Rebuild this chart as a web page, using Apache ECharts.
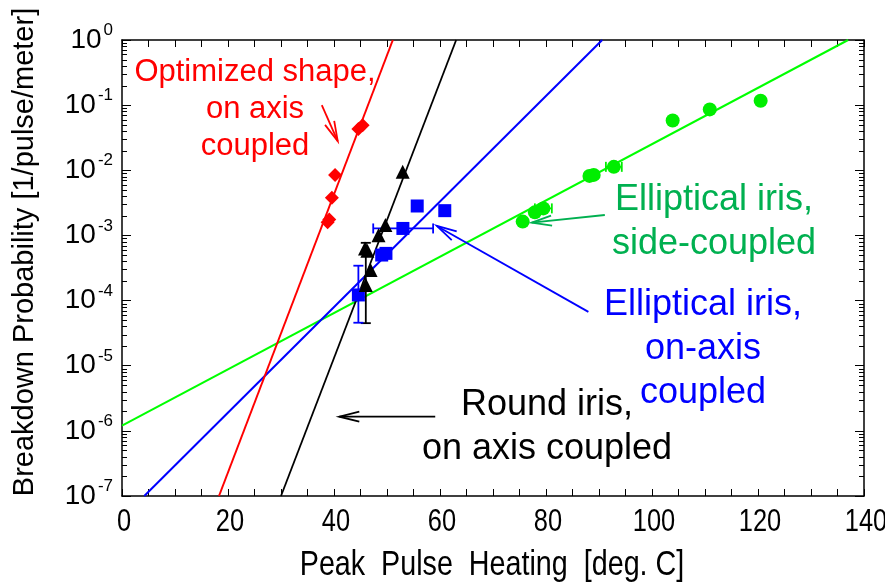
<!DOCTYPE html>
<html>
<head>
<meta charset="utf-8">
<script src="https://cdn.jsdelivr.net/npm/echarts@6/dist/echarts.min.js"></script>
<style>
  html, body { margin: 0; padding: 0; background: #fff; }
  #chart { width: 885px; height: 583px; }
</style>
</head>
<body>
<div id="chart"></div>
<script>
// Measured points: [peak pulse heating (deg C), breakdown probability (1/pulse/meter)]
const optimizedShape = [[38.8, 1.6e-3], [39.1, 1.75e-3], [39.6, 3.8e-3], [40.2, 8.5e-3], [44.6, 4.3e-2], [45.4, 4.9e-2]];
const roundIris = [[46.0, 1.74e-4], [46.9, 2.94e-4], [45.85, 6.3e-4], [46.3, 5.8e-4], [48.4, 1.01e-3], [49.7, 1.45e-3], [52.96, 9.5e-3]];
const ellipticalOnAxis = [[44.6, 1.22e-4], [49.0, 5.0e-4], [49.8, 5.3e-4], [53.0, 1.28e-3], [55.7, 2.83e-3], [60.9, 2.4e-3]];
const ellipticalSide = [[75.6, 1.63e-3], [77.9, 2.26e-3], [79.5, 2.6e-3], [88.2, 8.2e-3], [89.0, 8.5e-3], [92.8, 1.13e-2], [103.9, 5.8e-2], [110.9, 8.6e-2], [120.5, 0.117]];

// Exponential fits, given by their two end points
const optimizedFit = [[18.3, 1e-7], [51.1, 1]];
const roundFit = [[30.0, 1e-7], [63.05, 1]];
const ellipticalOnAxisFit = [[4.2, 1e-7], [90.6, 1]];
const ellipticalSideFit = [[0, 1.2e-6], [137, 1]];

// Error bars: vertical [x, y, low, high], horizontal [x, y, left, right]
const roundIrisErrY = [[46.0, 1.74e-4, 4.5e-5, 7.7e-4]];
const ellipticalOnAxisErrY = [[44.6, 1.22e-4, 4.57e-5, 3.43e-4]];
const ellipticalOnAxisErrX = [[53.0, 1.28e-3, 47.4, 58.7]];
const ellipticalSideErrX = [[79.5, 2.6e-3, 77.9, 81.1], [92.8, 1.13e-2, 91.3, 94.3]];

// Axis ticks
const xTickStep = 5;
const xLabelStep = 20;
const yDecadeExponents = [0, -1, -2, -3, -4, -5, -6, -7];
const yMinorMantissas = [2, 3, 4, 5, 6, 7, 8, 9];

// Callout arrows [from, to] in data coordinates
const arrows = [
  { from: [37.7, 0.1], to: [40.7, 0.028], color: '#ff0000' },
  { from: [91.1, 2.06e-3], to: [77.3, 1.57e-3], color: '#00b050' },
  { from: [88.0, 6.7e-5], to: [59.4, 1.4e-3], color: '#0000ff' },
  { from: [59.1, 1.65e-6], to: [41.0, 1.65e-6], color: '#000000' }
];

const SANS = '"Liberation Sans", Arial, sans-serif';

const chart = echarts.init(document.getElementById('chart'), null, { renderer: 'canvas' });

const yMinorTicks = [];
yDecadeExponents.slice(1).forEach(function (e) {
  yMinorMantissas.forEach(function (m) { yMinorTicks.push([0, m * Math.pow(10, e)]); });
});

function fitLine(data, color, width) {
  return {
    type: 'line', data: data, showSymbol: false, silent: true, z: 2,
    lineStyle: { color: color, width: width }, animation: false
  };
}

function scatter(data, symbol, size, color) {
  return {
    type: 'scatter', data: data, symbol: symbol, symbolSize: size, z: 5,
    itemStyle: { color: color, opacity: 1 }, animation: false
  };
}

function errorBars(data, color, horizontal) {
  return {
    type: 'custom', data: data, z: 4, silent: true, animation: false,
    encode: { x: 0, y: 1 },
    renderItem: function (params, api) {
      const cap = 5;
      let a, b, caps;
      if (horizontal) {
        a = api.coord([api.value(2), api.value(1)]);
        b = api.coord([api.value(3), api.value(1)]);
        caps = [[a[0], a[1] - cap, a[0], a[1] + cap], [b[0], b[1] - cap, b[0], b[1] + cap]];
      } else {
        a = api.coord([api.value(0), api.value(2)]);
        b = api.coord([api.value(0), api.value(3)]);
        caps = [[a[0] - cap, a[1], a[0] + cap, a[1]], [b[0] - cap, b[1], b[0] + cap, b[1]]];
      }
      const style = { stroke: color, lineWidth: 1.8 };
      const segs = [[a[0], a[1], b[0], b[1]]].concat(caps);
      return {
        type: 'group',
        children: segs.map(function (s) {
          return { type: 'line', shape: { x1: s[0], y1: s[1], x2: s[2], y2: s[3] }, style: style };
        })
      };
    }
  };
}

// Short inward minor ticks at 2..9 x 10^k on both vertical frame edges
const minorTickSeries = {
  type: 'custom', data: yMinorTicks, silent: true, z: 1, animation: false,
  encode: { x: 0, y: 1 },
  renderItem: function (params, api) {
    const cs = params.coordSys;
    const y = Math.round(api.coord([0, api.value(1)])[1]) + 0.5;
    const len = 5;
    const style = { stroke: '#000', lineWidth: 1 };
    return {
      type: 'group',
      children: [
        { type: 'line', shape: { x1: cs.x, y1: y, x2: cs.x + len, y2: y }, style: style },
        { type: 'line', shape: { x1: cs.x + cs.width - len, y1: y, x2: cs.x + cs.width, y2: y }, style: style }
      ]
    };
  }
};

// Condensed tick labels under the x axis, placed through the x scale
const xLabelValues = [];
for (let v = 0; v <= 140; v += xLabelStep) xLabelValues.push([v, 1e-7]);
const xLabelSeries = {
  type: 'custom', data: xLabelValues, silent: true, z: 10, animation: false, clip: false,
  encode: { x: 0, y: 1 },
  renderItem: function (params, api) {
    const p = api.coord([api.value(0), api.value(1)]);
    return {
      type: 'text', x: p[0] + 2, y: p[1] + 26, scaleX: 0.82,
      style: { text: String(api.value(0)), fill: '#000', font: '31px ' + SANS, align: 'center', verticalAlign: 'middle' }
    };
  }
};

const axisLineStyle = { show: true, onZero: false, lineStyle: { color: '#000', width: 1.5 } };

const xBase = {
  type: 'value', min: 0, max: 140, interval: xTickStep,
  axisLine: axisLineStyle,
  axisTick: { show: true, inside: true, length: 7, lineStyle: { color: '#000', width: 1 } },
  axisLabel: { show: false },
  splitLine: { show: false }
};
const yBase = {
  type: 'log', logBase: 10, min: 1e-7, max: 1, splitNumber: 7,
  axisLine: axisLineStyle,
  axisTick: { show: true, inside: true, length: 9, lineStyle: { color: '#000', width: 1 } },
  splitLine: { show: false }
};

chart.setOption({
  backgroundColor: '#ffffff',
  animation: false,
  grid: { left: 122, right: 21, top: 40, bottom: 87, containLabel: false, outerBoundsMode: 'none' },
  xAxis: [
    Object.assign({}, xBase, { position: 'bottom' }),
    Object.assign({}, xBase, { position: 'top' })
  ],
  yAxis: [
    Object.assign({}, yBase, {
      position: 'left',
      axisLabel: {
        color: '#000', margin: 9,
        formatter: function (v) {
          const e = Math.round(Math.log10(v));
          return yDecadeExponents.indexOf(e) >= 0 ? '{b|10}{s|' + e + '}' : '';
        },
        rich: {
          b: { fontFamily: SANS, fontSize: 28, lineHeight: 36, color: '#000' },
          s: { fontFamily: SANS, fontSize: 17, lineHeight: 17, verticalAlign: 'top', color: '#000', padding: [0, 0, 0, 2] }
        }
      }
    }),
    Object.assign({}, yBase, { position: 'right', axisLabel: { show: false } })
  ],
  series: [
    minorTickSeries,
    fitLine(ellipticalSideFit, '#00ff00', 2),
    fitLine(ellipticalOnAxisFit, '#0000ff', 2),
    fitLine(optimizedFit, '#ff0000', 2),
    fitLine(roundFit, '#000000', 1.8),
    errorBars(roundIrisErrY, '#000000', false),
    errorBars(ellipticalOnAxisErrY, '#0000ff', false),
    errorBars(ellipticalOnAxisErrX, '#0000ff', true),
    errorBars(ellipticalSideErrX, '#00ee00', true),
    scatter(ellipticalSide, 'circle', 14, '#00ee00'),
    scatter(ellipticalOnAxis, 'rect', 13, '#0000ff'),
    scatter(optimizedShape, 'diamond', 14, '#ff0000'),
    scatter(roundIris, 'triangle', 14, '#000000'),
    xLabelSeries
  ]
});

// Callout labels (first baseline y, line gap) and arrows
const notes = [
  { lines: ['Optimized shape,', 'on axis', 'coupled'], x: 255, y: 83, gap: 37, size: 31, color: '#ff0000' },
  { lines: ['Elliptical iris,', 'side-coupled'], x: 714, y: 213, gap: 44, size: 36, color: '#00b050' },
  { lines: ['Elliptical iris,', 'on-axis', 'coupled'], x: 703, y: 318, gap: 44, size: 36, color: '#0000ff' },
  { lines: ['Round iris,', 'on axis coupled'], x: 547, y: 418, gap: 44, size: 36, color: '#000000' }
];

const graphics = [];
notes.forEach(function (n) {
  n.lines.forEach(function (t, i) {
    graphics.push({
      type: 'text', x: n.x, y: n.y + i * n.gap - 0.35 * n.size, z: 10,
      style: { text: t, fill: n.color, font: n.size + 'px ' + SANS, align: 'center', verticalAlign: 'middle' }
    });
  });
});

arrows.forEach(function (a) {
  const p0 = chart.convertToPixel({ xAxisIndex: 0, yAxisIndex: 0 }, a.from);
  const p1 = chart.convertToPixel({ xAxisIndex: 0, yAxisIndex: 0 }, a.to);
  const dx = p0[0] - p1[0], dy = p0[1] - p1[1];
  const L = Math.sqrt(dx * dx + dy * dy);
  const ux = dx / L, uy = dy / L;
  const headLen = 20, headHalf = 5;
  const bx = p1[0] + ux * headLen, by = p1[1] + uy * headLen;
  graphics.push({
    type: 'line', z: 9, shape: { x1: p0[0], y1: p0[1], x2: p1[0], y2: p1[1] },
    style: { stroke: a.color, lineWidth: 1.8 }
  });
  graphics.push({
    type: 'polyline', z: 9,
    shape: { points: [[bx - uy * headHalf, by + ux * headHalf], [p1[0], p1[1]], [bx + uy * headHalf, by - ux * headHalf]] },
    style: { stroke: a.color, lineWidth: 1.8, fill: null }
  });
});

// Axis titles
graphics.push({
  type: 'text', x: 25, y: 252, rotation: Math.PI / 2, z: 10,
  style: {
    text: 'Breakdown Probability [1/pulse/meter]', fill: '#000',
    font: '29px ' + SANS, align: 'center', verticalAlign: 'middle'
  }
});
graphics.push({
  type: 'text', x: 492, y: 565, scaleX: 0.82, z: 10,
  style: {
    text: 'Peak  Pulse  Heating  [deg. C]', fill: '#000',
    font: '35px ' + SANS, align: 'center', verticalAlign: 'middle'
  }
});

chart.setOption({ graphic: graphics });
</script>
</body>
</html>
